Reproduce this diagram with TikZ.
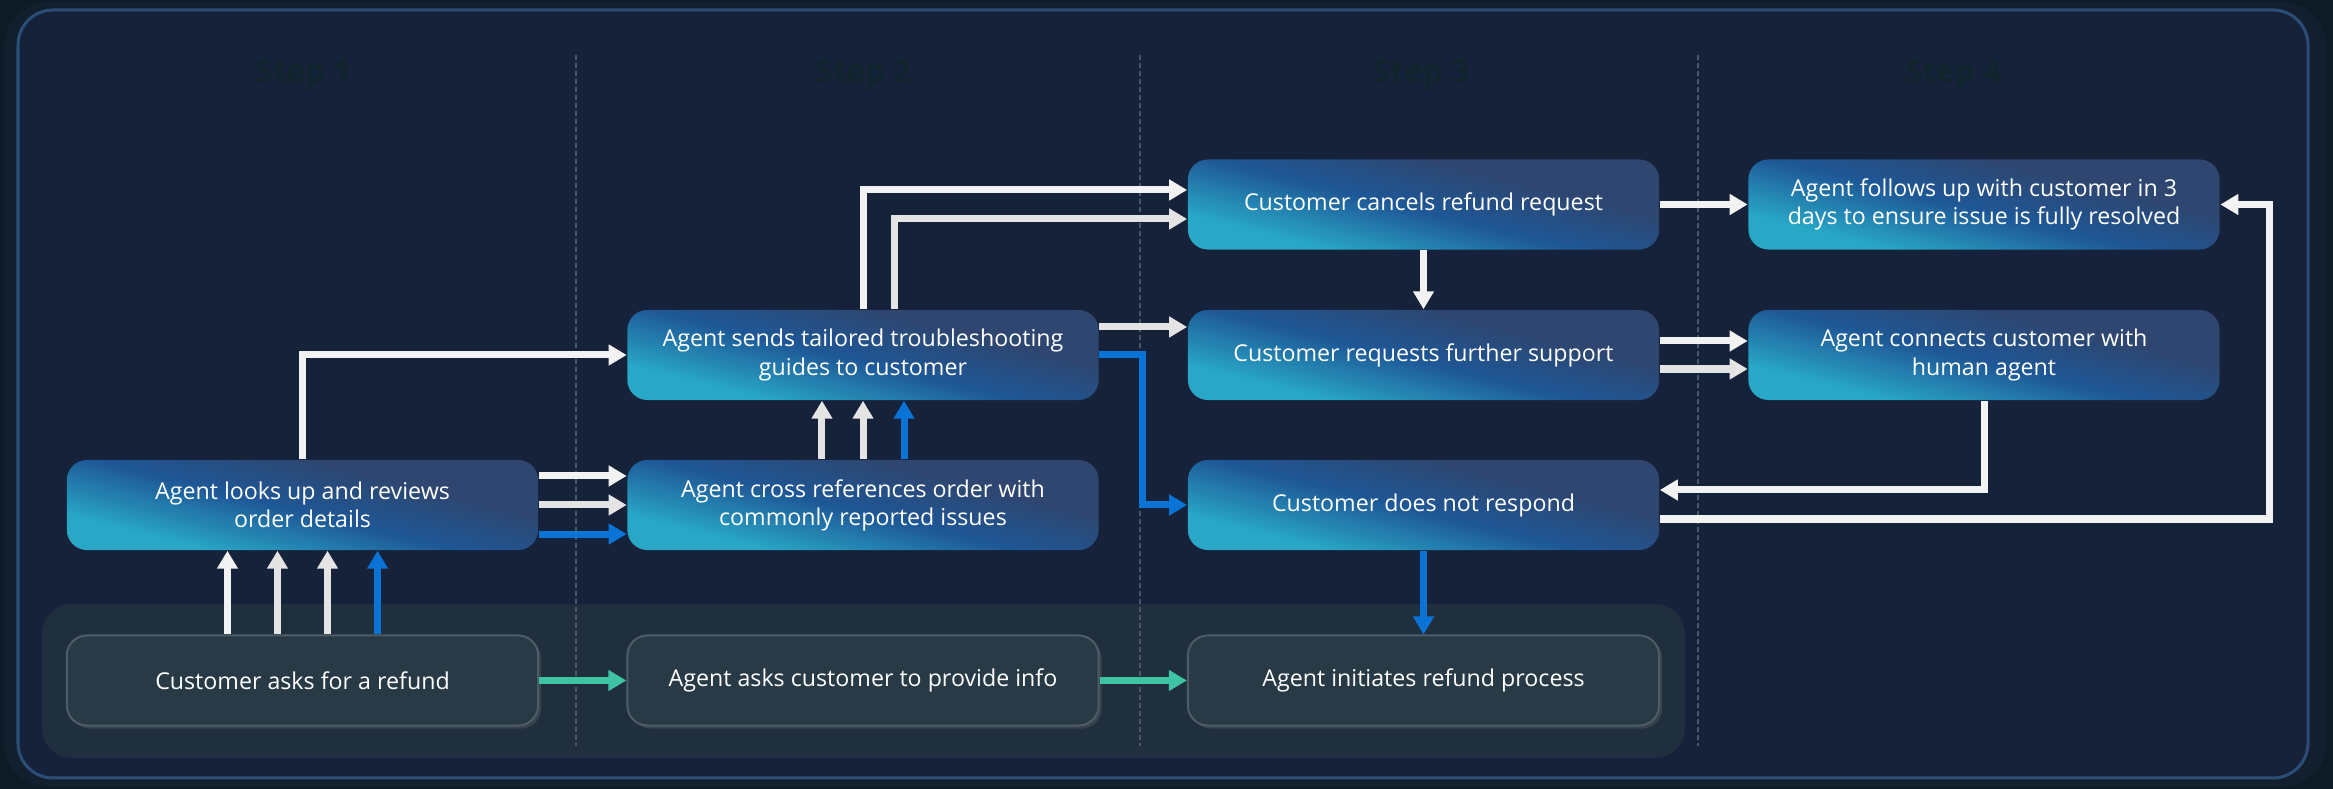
\documentclass[tikz,border=0pt]{standalone}
\usepackage{fontspec}
\setmainfont{Open Sans}
\usetikzlibrary{arrows.meta,shadows}

\definecolor{pagebg}{HTML}{0E1A25}
\definecolor{rimbg}{HTML}{131E2E}
\definecolor{framebg}{HTML}{16213A}
\definecolor{framerim}{HTML}{2B4E78}
\definecolor{bandbg}{HTML}{1F2F3E}
\definecolor{sepgray}{HTML}{4A5766}
\definecolor{titlecol}{HTML}{0F252B}
\definecolor{boxteal}{HTML}{28A7C6}
\definecolor{boxblue}{HTML}{1E5796}
\definecolor{boxslate}{HTML}{2E4670}
\definecolor{plainfill}{HTML}{293A47}
\definecolor{plainrim}{HTML}{4D5C67}
\definecolor{arrwhite}{HTML}{F2F2F2}
\definecolor{arrlight}{HTML}{E4E4E4}
\definecolor{arrblue}{HTML}{0A74D6}
\definecolor{arrteal}{HTML}{3EC3A4}

\pgfdeclareverticalshading{stageshade}{100bp}{color(0bp)=(boxteal); color(30bp)=(boxteal);
  color(48bp)=(boxblue); color(64bp)=(boxslate); color(100bp)=(boxslate)}

\begin{document}
\begin{tikzpicture}[x=0.01cm, y=-0.01cm,
  stage/.style={rounded corners=0.2cm, minimum width=4.71cm, minimum height=0.9cm,
    inner sep=0pt, align=center, text=white, font=\fontsize{6.6}{8}\selectfont,
    shading=stageshade, shading angle=-14},
  plain/.style={rounded corners=0.2cm, minimum width=4.71cm, minimum height=0.9cm,
    inner sep=0pt, align=center, text=white, font=\fontsize{6.6}{8}\selectfont,
    fill=plainfill, draw=plainrim, line width=0.02cm,
    drop shadow={opacity=0.25, shadow xshift=0.03cm, shadow yshift=-0.03cm}},
  steptitle/.style={text=titlecol, font=\fontsize{9}{10}\selectfont\bfseries},
  sepline/.style={draw=sepgray, line width=0.015cm, dash pattern=on 0.05cm off 0.03cm},
  wline/.style={draw=arrwhite, line width=0.07cm, -{Triangle[length=0.18cm,width=0.2cm]}},
  gline/.style={wline, draw=arrlight},
  bline/.style={wline, draw=arrblue},
  tline/.style={wline, draw=arrteal}]
% background and frame
\fill[pagebg] (0,0) rectangle (2333,789);
\useasboundingbox (0,0) rectangle (2333,789);
\fill[rimbg, rounded corners=0.45cm] (4,2) rectangle (2327,787);
\filldraw[fill=framebg, draw=framerim, line width=0.03cm, rounded corners=0.35cm]
  (18,10) rectangle (2308,778);
% bottom band
\fill[bandbg, rounded corners=0.3cm] (42,604) rectangle (1685,758);
% step separators
\draw[sepline] (576,55) -- (576,746) (1140,55) -- (1140,746) (1698,55) -- (1698,746);
% step titles
\node[steptitle] (s1) at (303,75) {Step 1};
\node[steptitle] (s2) at (863,75) {Step 2};
\node[steptitle] (s3) at (1421,75) {Step 3};
\node[steptitle] (s4) at (1953,75) {Step 4};
% stages
\node[stage] (look) at (302.5,505) {Agent looks up and reviews\\order details};
\node[stage] (cross) at (863,505) {Agent cross references order with\\commonly reported issues};
\node[stage] (tailored) at (863,355) {Agent sends tailored troubleshooting\\guides to customer};
\node[stage] (cancel) at (1423.5,204.5) {Customer cancels refund request};
\node[stage] (further) at (1423.5,355) {Customer requests further support};
\node[stage] (noresp) at (1423.5,505) {Customer does not respond};
\node[stage] (follow) at (1984,204.5) {Agent follows up with customer in 3\\days to ensure issue is fully resolved};
\node[stage] (human) at (1984,355) {Agent connects customer with\\human agent};
% main path
\node[plain] (ask) at (302.5,680.5) {Customer asks for a refund};
\node[plain] (info) at (863,680.5) {Agent asks customer to provide info};
\node[plain] (refund) at (1423.5,680.5) {Agent initiates refund process};
% step 1
\draw[wline] ([xshift=-0.75cm]ask.north) -- ([xshift=-0.75cm]look.south);
\draw[gline] ([xshift=-0.25cm]ask.north) -- ([xshift=-0.25cm]look.south);
\draw[gline] ([xshift=0.25cm]ask.north) -- ([xshift=0.25cm]look.south);
\draw[bline] ([xshift=0.75cm]ask.north) -- ([xshift=0.75cm]look.south);
\draw[wline] (look.north) |- (tailored.west);
\draw[wline] ([yshift=0.29cm]look.east) -- ([yshift=0.29cm]cross.west);
\draw[gline] (look.east) -- (cross.west);
\draw[bline] ([yshift=-0.29cm]look.east) -- ([yshift=-0.29cm]cross.west);
% step 2
\draw[gline] ([xshift=-0.41cm]cross.north) -- ([xshift=-0.41cm]tailored.south);
\draw[gline] (cross.north) -- (tailored.south);
\draw[bline] ([xshift=0.41cm]cross.north) -- ([xshift=0.41cm]tailored.south);
\draw[wline] (tailored.north) |- ([yshift=0.145cm]cancel.west);
\draw[gline] ([xshift=0.31cm]tailored.north) |- ([yshift=-0.145cm]cancel.west);
\draw[gline] ([yshift=0.28cm]tailored.east) -- ([yshift=0.28cm]further.west);
\draw[bline] (tailored.east) -- ++(43,0) |- (noresp.west);
% step 3
\draw[wline] (cancel) -- (further);
\draw[wline] (cancel) -- (follow);
\draw[wline] ([yshift=0.14cm]further.east) -- ([yshift=0.14cm]human.west);
\draw[gline] ([yshift=-0.14cm]further.east) -- ([yshift=-0.14cm]human.west);
\draw[bline] (noresp) -- (refund);
% step 4
\draw[wline] (human.south) |- ([yshift=0.15cm]noresp.east);
\draw[wline] ([yshift=-0.14cm]noresp.east) -- ++(610,0) |- (follow.east);
% main path arrows
\draw[tline] (ask) -- (info);
\draw[tline] (info) -- (refund);
\end{tikzpicture}
\end{document}
